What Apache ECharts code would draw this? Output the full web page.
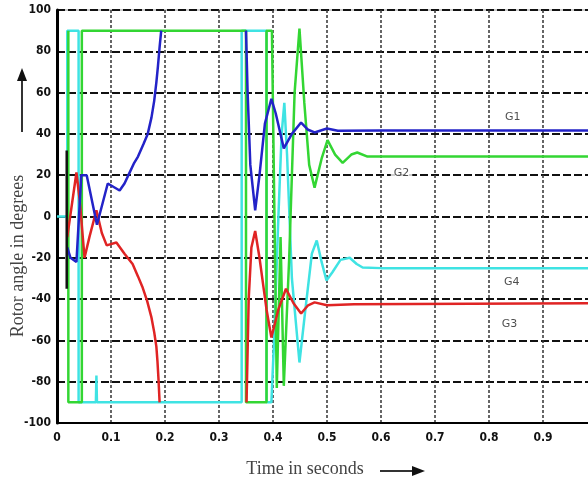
<!DOCTYPE html>
<html>
<head>
<meta charset="utf-8">
<script src="https://cdn.jsdelivr.net/npm/echarts@6/dist/echarts.min.js"></script>
<style>html,body{margin:0;padding:0;background:#fff;}#c{width:588px;height:480px;}</style>
</head>
<body>
<div id="c"></div>
<script>
// ---- data (time in s, rotor angle in degrees) ----
const xTicks = [0, 0.1, 0.2, 0.3, 0.4, 0.5, 0.6, 0.7, 0.8, 0.9, 1.0];
const yTicks = [-100, -80, -60, -40, -20, 0, 20, 40, 60, 80, 100];

const g4 = [[0,0],[0.019,0],[0.019,90],[0.040,90],[0.040,-90],[0.072,-90],[0.073,-77],[0.074,-90],
  [0.342,-90],[0.342,90],[0.388,90],[0.388,-90],[0.397,-90],[0.402,-60],[0.410,0],[0.416,40],[0.421,55],
  [0.426,30],[0.435,-30],[0.449,-70.7],[0.460,-45],[0.472,-18],[0.481,-11.6],[0.490,-22],[0.499,-31],
  [0.510,-27],[0.525,-21],[0.542,-20],[0.555,-23],[0.566,-24.7],[0.600,-25],[1.0,-25]];

const g2 = [[0.021,90],[0.021,-90],[0.046,-90],[0.046,90],[0.350,90],[0.350,-90],[0.388,-90],[0.388,90],
  [0.398,90],[0.407,-83],[0.414,-10],[0.420,-82],[0.430,-20],[0.440,60],[0.449,91],[0.458,55],[0.467,25],
  [0.477,14],[0.490,28],[0.501,37],[0.515,30],[0.529,26],[0.545,30],[0.556,31],[0.575,29],[0.600,29],[1.0,29]];

const g3 = [[0.019,-10],[0.036,21.3],[0.042,8],[0.051,-20],[0.060,-10],[0.073,3],[0.083,-8],[0.092,-14],
  [0.110,-12.6],[0.125,-18],[0.140,-23],[0.150,-29],[0.158,-34],[0.167,-41],[0.175,-49],[0.180,-56],
  [0.184,-63],[0.186,-70],[0.188,-79],[0.190,-90],
  [0.27,'-'],
  [0.351,-90],[0.355,-40],[0.360,-15],[0.367,-7],[0.375,-20],[0.388,-45],[0.397,-58.6],[0.410,-45],
  [0.424,-35],[0.438,-42],[0.452,-47],[0.465,-43],[0.477,-41.6],[0.500,-43],[0.550,-42.5],[1.0,-42]];

const g1 = [[0.019,-15],[0.025,-20],[0.036,-22],[0.045,20],[0.055,20],[0.074,-4],[0.094,16],[0.116,12.6],
  [0.125,16],[0.134,21],[0.143,26],[0.150,29],[0.160,35],[0.168,40],[0.175,48],[0.180,56],[0.184,65],
  [0.187,73],[0.190,82],[0.193,90],
  [0.27,'-'],
  [0.350,90],[0.353,60],[0.358,25],[0.367,3],[0.375,20],[0.385,45],[0.397,57],[0.405,50],[0.420,33],
  [0.435,40],[0.452,45.5],[0.465,42],[0.477,40.7],[0.500,42.6],[0.520,41.5],[0.600,41.6],[1.0,41.6]];

const spike = [[0.018,32],[0.018,-35]];

const labelNames = ['G1', 'G2', 'G3', 'G4'];
const labelPos = [[0.844, 48], [0.638, 20.8], [0.838, -52], [0.842, -32]];

// ---- chart ----
const chart = echarts.init(document.getElementById('c'), null, {renderer: 'canvas'});
const tickFont = "'Liberation Sans Narrow','DejaVu Sans Condensed',sans-serif";
const titleFont = "'Liberation Serif','DejaVu Serif',serif";

function lineSeries(name, data, color, z) {
  return {name, type: 'line', data, showSymbol: false, symbol: 'none', connectNulls: false,
    lineStyle: {color, width: 2.5}, itemStyle: {color}, z, animation: false};
}

chart.setOption({
  animation: false,
  backgroundColor: '#fff',
  grid: {left: 57, top: 10, width: 540, height: 413, show: true, borderColor: '#999', borderWidth: 1,
    containLabel: false, outerBoundsMode: 'none'},
  xAxis: {type: 'value', min: xTicks[0], max: xTicks[xTicks.length - 1], interval: 0.1,
    axisLine: {show: true, onZero: false, lineStyle: {color: '#000', width: 2}},
    axisTick: {show: false},
    axisLabel: {color: '#111', fontSize: 12, fontWeight: 'bold', fontFamily: tickFont, margin: 9,
      formatter: v => (Math.round(v * 10) / 10).toString()},
    splitLine: {show: true, lineStyle: {color: '#333', width: 1.5, type: [3, 2]}}},
  yAxis: {type: 'value', min: yTicks[0], max: yTicks[yTicks.length - 1], interval: 20,
    axisLine: {show: true, onZero: false, lineStyle: {color: '#000', width: 3}},
    axisTick: {show: false},
    axisLabel: {color: '#111', fontSize: 12, fontWeight: 'bold', fontFamily: tickFont, margin: 6},
    splitLine: {show: true, lineStyle: {color: '#111', width: 2, type: [8, 3]}}},
  series: [
    lineSeries('G4', g4, '#3fe3e3', 2),
    lineSeries('G2', g2, '#33d633', 3),
    lineSeries('G3', g3, '#e02424', 4),
    lineSeries('G1', g1, '#2323c8', 5),
    lineSeries('spike', spike, '#111', 6),
    {type: 'scatter', symbolSize: 0, z: 10, animation: false,
      data: labelPos.map((p, i) => ({value: p, name: labelNames[i]})),
      label: {show: true, position: 'inside', formatter: p => p.name, color: '#222', fontSize: 11,
        fontFamily: "'DejaVu Sans',sans-serif", backgroundColor: '#fff', padding: [1, 3]}}
  ],
  graphic: [
    {type: 'text', x: 18, y: 256, rotation: Math.PI / 2,
      style: {text: 'Rotor angle in degrees', font: '18px ' + titleFont, fill: '#444',
        textAlign: 'center', textVerticalAlign: 'middle'}},
    {type: 'line', shape: {x1: 22, y1: 132, x2: 22, y2: 78}, style: {stroke: '#333', lineWidth: 2}},
    {type: 'polygon', shape: {points: [[17, 81], [22, 68], [27, 81]]}, style: {fill: '#111'}},
    {type: 'text', x: 305, y: 469,
      style: {text: 'Time in seconds', font: '18px ' + titleFont, fill: '#444',
        textAlign: 'center', textVerticalAlign: 'middle'}},
    {type: 'line', shape: {x1: 380, y1: 471, x2: 416, y2: 471}, style: {stroke: '#333', lineWidth: 2}},
    {type: 'polygon', shape: {points: [[412, 466], [425, 471], [412, 476]]}, style: {fill: '#111'}}
  ]
});
</script>
</body>
</html>
